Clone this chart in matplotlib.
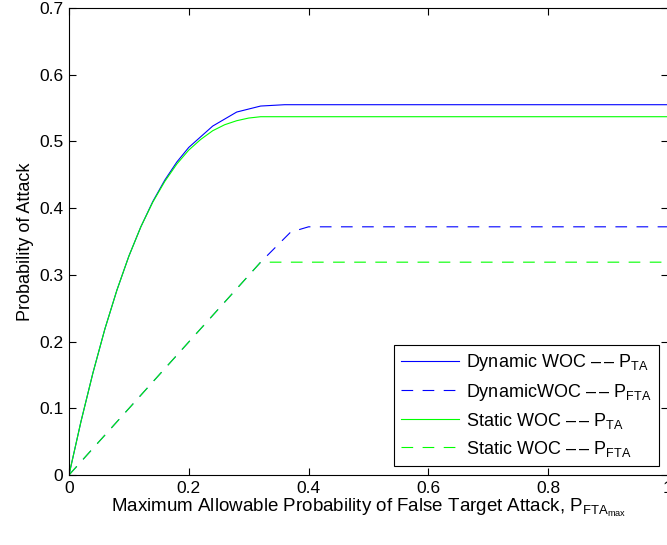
import numpy as np
import matplotlib
matplotlib.use('Agg')
import matplotlib.pyplot as plt

plt.rcParams['font.family'] = ['Liberation Sans', 'DejaVu Sans']
plt.rcParams['mathtext.fontset'] = 'custom'
plt.rcParams['mathtext.rm'] = 'Liberation Sans'

# probability of true target attack
x_dyn_ta = [0, 0.02, 0.04, 0.06, 0.08, 0.10, 0.12, 0.14, 0.16, 0.18, 0.20,
            0.24, 0.28, 0.32, 0.36, 1.0]
y_dyn_ta = [0, 0.080, 0.153, 0.219, 0.277, 0.328, 0.372, 0.410, 0.442, 0.469, 0.491,
            0.523, 0.544, 0.553, 0.555, 0.555]

x_sta_ta = [0, 0.02, 0.04, 0.06, 0.08, 0.10, 0.12, 0.14, 0.16, 0.18, 0.20,
            0.22, 0.24, 0.26, 0.28, 0.30, 0.32, 0.34, 1.0]
y_sta_ta = [0, 0.080, 0.153, 0.219, 0.277, 0.328, 0.372, 0.409, 0.440, 0.466, 0.487,
            0.503, 0.516, 0.525, 0.531, 0.535, 0.537, 0.537, 0.537]

# probability of false target attack
x_dyn_fta = [0, 0.32, 0.37, 0.40, 1.0]
y_dyn_fta = [0, 0.319, 0.364, 0.372, 0.372]

x_sta_fta = [0, 0.32, 1.0]
y_sta_fta = [0, 0.319, 0.319]

fig = plt.figure(figsize=(6.67, 5.45), dpi=100)
ax = fig.add_axes([0.1034, 0.1284, 0.898, 0.857])

lw = 0.8
dash = (10.5, 8.5)
sep = ' \u2013\u2009\u2013 '
ax.plot(x_dyn_ta, y_dyn_ta, color='#0000ff', lw=lw,
        label='Dynamic WOC' + sep + '$\\mathrm{P_{TA}}$')
ax.plot(x_dyn_fta, y_dyn_fta, color='#0000ff', lw=lw, dashes=dash,
        label='DynamicWOC' + sep + '$\\mathrm{P_{FTA}}$')
ax.plot(x_sta_ta, y_sta_ta, color='#00ff00', lw=lw,
        label='Static WOC' + sep + '$\\mathrm{P_{TA}}$')
ax.plot(x_sta_fta, y_sta_fta, color='#00ff00', lw=lw, dashes=dash,
        label='Static WOC' + sep + '$\\mathrm{P_{FTA}}$')

ax.set_xlim(0, 1)
ax.set_ylim(0, 0.7)
ax.set_xticks([0, 0.2, 0.4, 0.6, 0.8, 1])
ax.set_xticklabels(['0', '0.2', '0.4', '0.6', '0.8', '1'])
ax.set_yticks(np.arange(0, 0.71, 0.1))
ax.set_yticklabels(['0', '0.1', '0.2', '0.3', '0.4', '0.5', '0.6', '0.7'])
ax.tick_params(direction='in', top=True, right=True, length=5, width=0.8,
               labelsize=12.5, pad=4)
for s in ax.spines.values():
    s.set_linewidth(0.8)

ax.set_xlabel(r'Maximum Allowable Probability of False Target Attack, $\mathrm{P_{FTA_{max}}}$',
              fontsize=13.5, labelpad=1)
ax.set_ylabel('Probability of Attack', fontsize=13, labelpad=4)

leg = ax.legend(loc='lower right', fontsize=13, handlelength=3.2, handletextpad=0.4,
                fancybox=False, framealpha=1, edgecolor='black',
                borderaxespad=0.5, labelspacing=0.45, borderpad=0.4)
leg.get_frame().set_linewidth(0.8)

fig.savefig('out.png', dpi=100)
